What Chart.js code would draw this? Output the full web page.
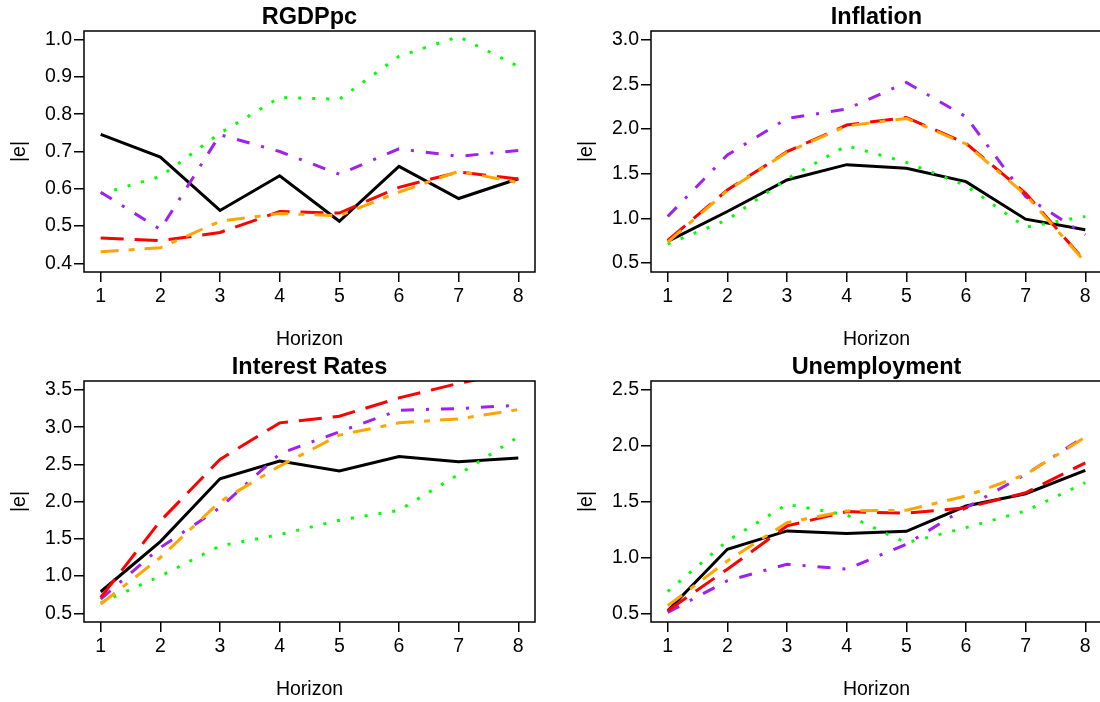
<!DOCTYPE html>
<html>
<head>
<meta charset="utf-8">
<script src="https://cdn.jsdelivr.net/npm/chart.js@4"></script>
<style>
  html, body { margin: 0; padding: 0; background: #fff; overflow: hidden; }
  #wrap { position: relative; width: 1100px; height: 702px; overflow: hidden; }
  .panel { position: absolute; }
</style>
</head>
<body>
<div id="wrap">
  <canvas class="panel" id="c1" width="567" height="351" style="left:0;top:0"></canvas>
  <canvas class="panel" id="c2" width="567" height="351" style="left:567px;top:0"></canvas>
  <canvas class="panel" id="c3" width="567" height="351" style="left:0;top:350px"></canvas>
  <canvas class="panel" id="c4" width="567" height="351" style="left:567px;top:350px"></canvas>
</div>
<script>
const horizons = [1, 2, 3, 4, 5, 6, 7, 8];

// RGDPpc
const rgdpBlack  = [0.746, 0.685, 0.542, 0.635, 0.513, 0.660, 0.574, 0.627];
const rgdpGreen  = [0.586, 0.633, 0.749, 0.845, 0.840, 0.955, 1.008, 0.928];
const rgdpPurple = [0.591, 0.491, 0.745, 0.700, 0.639, 0.707, 0.687, 0.703];
const rgdpRed    = [0.468, 0.461, 0.483, 0.539, 0.535, 0.604, 0.645, 0.626];
const rgdpOrange = [0.431, 0.442, 0.513, 0.534, 0.528, 0.591, 0.647, 0.617];
const rgdpTicks  = [0.4, 0.5, 0.6, 0.7, 0.8, 0.9, 1.0];

// Inflation
const inflBlack  = [0.742, 1.077, 1.430, 1.601, 1.560, 1.411, 0.991, 0.872];
const inflGreen  = [0.712, 0.984, 1.441, 1.813, 1.627, 1.367, 0.902, 1.021];
const inflPurple = [1.021, 1.709, 2.118, 2.222, 2.520, 2.137, 1.244, 0.816];
const inflRed    = [0.753, 1.318, 1.746, 2.044, 2.129, 1.839, 1.281, 0.519];
const inflOrange = [0.735, 1.311, 1.739, 2.033, 2.118, 1.832, 1.263, 0.511];
const inflTicks  = [0.5, 1.0, 1.5, 2.0, 2.5, 3.0];

// Interest Rates
const rateBlack  = [0.790, 1.464, 2.308, 2.545, 2.411, 2.607, 2.536, 2.585];
const rateGreen  = [0.640, 1.000, 1.406, 1.558, 1.750, 1.884, 2.366, 2.870];
const ratePurple = [0.692, 1.384, 1.920, 2.643, 2.938, 3.228, 3.250, 3.295];
const rateRed    = [0.714, 1.741, 2.567, 3.058, 3.147, 3.393, 3.589, 3.750];
const rateOrange = [0.625, 1.250, 2.000, 2.478, 2.893, 3.058, 3.112, 3.237];
const rateTicks  = [0.5, 1.0, 1.5, 2.0, 2.5, 3.0, 3.5];

// Unemployment
const unemBlack  = [0.524, 1.074, 1.238, 1.214, 1.235, 1.461, 1.571, 1.780];
const unemGreen  = [0.696, 1.149, 1.476, 1.381, 1.131, 1.268, 1.417, 1.670];
const unemPurple = [0.509, 0.792, 0.940, 0.896, 1.119, 1.446, 1.744, 2.086];
const unemRed    = [0.524, 0.896, 1.283, 1.411, 1.396, 1.446, 1.580, 1.848];
const unemOrange = [0.568, 0.970, 1.313, 1.417, 1.423, 1.551, 1.744, 2.077];
const unemTicks  = [0.5, 1.0, 1.5, 2.0, 2.5];

const family = '"Liberation Sans", Arial, Helvetica, sans-serif';

// line styles in drawing order (last one ends on top)
const lineStyles = [
    { color: '#000000', dash: [] },
    { color: '#00FF00', dash: [3, 11] },
    { color: '#A020F0', dash: [13, 12, 3, 12] },
    { color: '#FF0000', dash: [23, 11] },
    { color: '#FFA500', dash: [18, 10, 6, 10] }
];

// frame around the plot region, like box() in R
const boxPlugin = {
    id: 'box',
    afterDraw(chart) {
        const a = chart.chartArea;
        const ctx = chart.ctx;
        ctx.save();
        ctx.strokeStyle = '#000';
        ctx.lineWidth = 1.5;
        ctx.strokeRect(a.left, a.top, a.right - a.left, a.bottom - a.top);
        ctx.restore();
    }
};

function makePanel(id, title, series, yTicks, yMin, yMax) {
    const datasets = series.map((vals, i) => ({
        data: horizons.map((h, j) => ({ x: h, y: vals[j] })),
        borderColor: lineStyles[i].color,
        borderDash: lineStyles[i].dash,
        borderWidth: 3,
        borderCapStyle: 'butt',
        pointRadius: 0,
        tension: 0,
        fill: false,
        order: series.length - i
    }));

    return new Chart(document.getElementById(id), {
        type: 'line',
        data: { datasets: datasets },
        options: {
            responsive: false,
            animation: false,
            layout: { padding: { left: 0, top: 0, right: 32, bottom: 0 } },
            plugins: {
                legend: { display: false },
                tooltip: { enabled: false },
                title: {
                    display: true,
                    text: title,
                    fullSize: false,
                    color: '#000',
                    font: { family: family, size: 23.5, weight: 'bold', lineHeight: 1 },
                    padding: { top: 6.25, bottom: 1.25 }
                }
            },
            scales: {
                x: {
                    type: 'linear',
                    min: 0.72,
                    max: 8.28,
                    afterBuildTicks: s => { s.ticks = horizons.map(v => ({ value: v })); },
                    afterFit: s => { s.height = 79; },
                    grid: { drawOnChartArea: false, drawTicks: true, tickLength: 10, color: '#000', lineWidth: 1.5 },
                    border: { display: false },
                    ticks: {
                        color: '#000',
                        font: { family: family, size: 19.5 },
                        padding: 3,
                        maxRotation: 0,
                        autoSkip: false,
                        callback: v => String(v)
                    },
                    title: {
                        display: true,
                        text: 'Horizon',
                        color: '#000',
                        font: { family: family, size: 19.5, lineHeight: 1 },
                        padding: { top: 0, bottom: 1.25 }
                    }
                },
                y: {
                    min: yMin,
                    max: yMax,
                    afterBuildTicks: s => { s.ticks = yTicks.map(v => ({ value: v })); },
                    afterFit: s => { s.width = 84; },
                    grid: { drawOnChartArea: false, drawTicks: true, tickLength: 10, color: '#000', lineWidth: 1.5 },
                    border: { display: false },
                    ticks: {
                        color: '#000',
                        font: { family: family, size: 19.5 },
                        padding: 2,
                        autoSkip: false,
                        callback: v => Number(v).toFixed(1)
                    },
                    title: {
                        display: true,
                        text: '|e|',
                        color: '#000',
                        font: { family: family, size: 19.5, lineHeight: 1 },
                        padding: { top: 10.25, bottom: 0 }
                    }
                }
            }
        },
        plugins: [boxPlugin]
    });
}

makePanel('c1', 'RGDPpc', [rgdpBlack, rgdpGreen, rgdpPurple, rgdpRed, rgdpOrange], rgdpTicks, 0.377, 1.023);
makePanel('c2', 'Inflation', [inflBlack, inflGreen, inflPurple, inflRed, inflOrange], inflTicks, 0.40, 3.096);
makePanel('c3', 'Interest Rates', [rateBlack, rateGreen, ratePurple, rateRed, rateOrange], rateTicks, 0.384, 3.62);
makePanel('c4', 'Unemployment', [unemBlack, unemGreen, unemPurple, unemRed, unemOrange], unemTicks, 0.423, 2.58);
</script>
</body>
</html>
